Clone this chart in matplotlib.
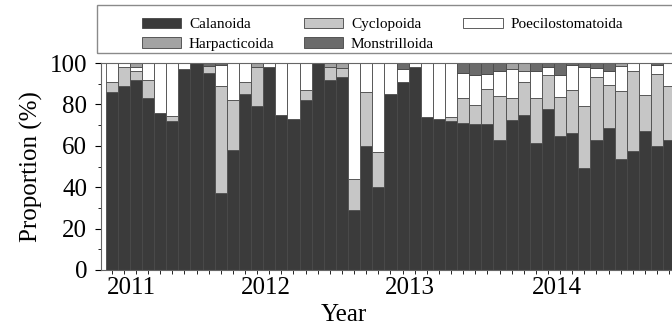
import matplotlib
matplotlib.use("Agg")
import matplotlib.pyplot as plt
from matplotlib.patches import Patch, Rectangle
from matplotlib.ticker import MultipleLocator, FixedLocator
import numpy as np

plt.rcParams['font.family'] = ['Liberation Serif', 'DejaVu Serif']

# monthly samples, 2011 onward (right end cropped in the source figure)
calanoida = [86, 89, 92, 83, 76, 72, 97, 100, 95, 37, 58, 85, 79, 98, 75, 73,
             82, 100, 92, 93, 29, 60, 40, 85, 91, 98, 74, 73, 72, 71, 70.5, 70.5,
             63, 72.5, 75, 61.5, 78, 64.5, 66, 49.5, 63, 68.5, 53.5, 57.5, 67, 60, 63]
cyclopoida = [5, 9, 4, 9, 0, 2.5, 0, 0, 3.5, 52, 24, 6, 19, 0, 0, 0,
              5, 0, 6, 4.5, 15, 26, 17, 0, 0, 0, 0, 0, 2, 12, 9, 17,
              21, 10.5, 16, 21.5, 16, 19, 21, 29.5, 30, 21, 33, 38.5, 17.5, 34.5, 26]
poecilostomatoida = [9, 2, 2, 8, 24, 25.5, 3, 0, 0, 10, 18, 9, 0, 2, 25, 27,
                     13, 0, 0, 0, 56, 14, 43, 15, 6, 2, 26, 27, 26, 12, 14.5, 7,
                     12, 14, 5, 13, 4, 10.5, 12, 19, 4.5, 6.5, 12, 4, 15.5, 4.5, 11]
harpacticoida = [0, 0, 2, 0, 0, 0, 0, 0, 0, 0, 0, 0, 2, 0, 0, 0,
                 0, 0, 2, 2.5, 0, 0, 0, 0, 0, 0, 0, 0, 0, 0, 0, 0,
                 0, 3, 4, 0, 0, 0, 0, 0, 0, 0, 1.5, 0, 0, 0, 0]
monstrilloida = [0, 0, 0, 0, 0, 0, 0, 0, 1.5, 1, 0, 0, 0, 0, 0, 0,
                 0, 0, 0, 0, 0, 0, 0, 0, 3, 0, 0, 0, 0, 5, 6, 5.5,
                 4, 0, 0, 4, 2, 6, 1, 2, 2.5, 4, 0, 0, 0, 1, 0]

year_labels = ["2011", "2012", "2013", "2014"]
year_pos = [1.6, 12.7, 24.6, 36.7]

groups = ["Calanoida", "Cyclopoida", "Poecilostomatoida", "Harpacticoida", "Monstrilloida"]
colors = {"Calanoida": "#3b3b3b", "Cyclopoida": "#c6c6c6", "Poecilostomatoida": "#ffffff",
          "Harpacticoida": "#a3a3a3", "Monstrilloida": "#6b6b6b"}
series = {"Calanoida": calanoida, "Cyclopoida": cyclopoida, "Poecilostomatoida": poecilostomatoida,
          "Harpacticoida": harpacticoida, "Monstrilloida": monstrilloida}

fig = plt.figure(figsize=(6.72, 3.29), dpi=100)
ax = fig.add_axes([101 / 672, 59 / 329, 586.4 / 672, 207 / 329])

x = np.arange(len(calanoida))
bottom = np.zeros(len(x))
for g in groups:
    vals = np.array(series[g], dtype=float)
    ax.bar(x, vals, width=1.0, bottom=bottom, color=colors[g],
           edgecolor="#4a4a4a", linewidth=0.6)
    bottom += vals

ax.set_xlim(-0.88, 47.5)
ax.set_ylim(0, 100)
ax.yaxis.set_major_locator(MultipleLocator(20))
ax.yaxis.set_minor_locator(MultipleLocator(10))
ax.tick_params(axis="y", which="major", labelsize=18, length=4, direction="out", pad=6)
ax.tick_params(axis="y", which="minor", length=2.5, direction="out")

ax.xaxis.set_major_locator(FixedLocator(year_pos))
ax.set_xticklabels(year_labels)
ax.xaxis.set_minor_locator(FixedLocator(x))
ax.tick_params(axis="x", which="major", length=0, labelsize=18, pad=5)
ax.tick_params(axis="x", which="minor", length=3, direction="out")

for s in ax.spines.values():
    s.set_color("#666666")
    s.set_linewidth(0.8)

ax.set_ylabel("Proportion (%)", fontsize=18, labelpad=5)
fig.text(344 / 672, 14 / 329, "Year", fontsize=18, ha="center", va="center")

# legend box
fig.patches.append(Rectangle((97 / 672, (329 - 53) / 329), 620 / 672, 48 / 329,
                             transform=fig.transFigure, fill=False,
                             edgecolor="#8a8a8a", linewidth=1.0))
handles = [Patch(facecolor=colors[g], edgecolor="#444444", linewidth=0.6) for g in
           ["Calanoida", "Harpacticoida", "Cyclopoida", "Monstrilloida", "Poecilostomatoida"]]
labels = ["Calanoida", "Harpacticoida", "Cyclopoida", "Monstrilloida", "Poecilostomatoida"]
fig.legend(handles, labels, loc="upper left", bbox_to_anchor=(134 / 672, 1 - 10 / 329),
           ncol=3, frameon=False, fontsize=11, borderpad=0, handlelength=2.6,
           handleheight=0.7, handletextpad=0.5, columnspacing=1.9, labelspacing=0.4)

fig.savefig("out.png", dpi=100)
